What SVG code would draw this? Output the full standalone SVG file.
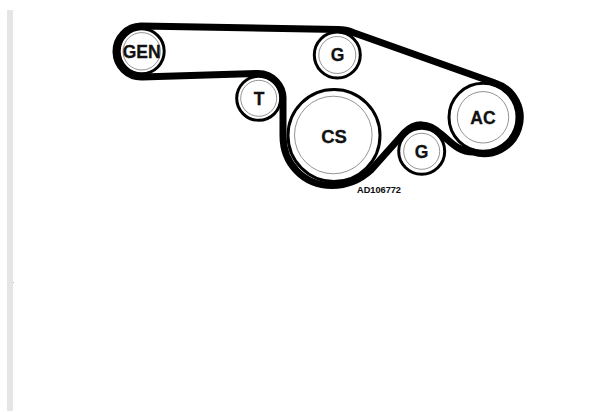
<svg xmlns="http://www.w3.org/2000/svg" width="615" height="412" viewBox="0 0 615 412">
<style>
.outer{fill:#fff;stroke:#000;stroke-width:3}
.inner{fill:#fff;stroke:#777;stroke-width:.8}
.belt{fill:none;stroke:#000;stroke-width:7;stroke-linejoin:round}
text{font-family:"Liberation Sans",Arial,sans-serif;font-weight:700;fill:#111;text-anchor:middle;stroke:#111;stroke-width:.3}
.l{font-size:17.500px}
</style>
<rect width="615" height="412" fill="#fff"/>
<rect x="7" y="10" width="6" height="401" fill="#e5e5e5"/>
<rect x="13" y="282" width="1" height="1" fill="#bbb"/>
<g id="gen"><circle class="outer" cx="141.7" cy="51.3" r="22.500"/><circle class="inner" cx="141.7" cy="51.3" r="18.7"/><text class="l" x="141.7" y="57.500">GEN</text></g>
<g id="t"><circle class="outer" cx="258.7" cy="98.3" r="22"/><circle class="inner" cx="258.7" cy="98.3" r="18"/><text class="l" x="259" y="104.500">T</text></g>
<g id="g1"><circle class="outer" cx="337.3" cy="55" r="23"/><circle class="inner" cx="337.3" cy="55" r="18.500"/><text class="l" x="337.500" y="61">G</text></g>
<g id="cs"><circle class="outer" cx="334" cy="135.500" r="46"/><circle class="inner" cx="333.3" cy="135" r="38.800"/><text x="334" y="143" font-size="18.500">CS</text></g>
<g id="ac"><circle class="outer" cx="483" cy="117.3" r="34"/><circle class="inner" cx="483" cy="117.3" r="25.7"/><text x="483" y="124" font-size="17.500">AC</text></g>
<g id="g2"><circle class="outer" cx="421.7" cy="151.3" r="23"/><circle class="inner" cx="421.7" cy="151.3" r="18"/><text class="l" x="421.500" y="157.500">G</text></g>
<g id="connectors"><path class="belt" d="M141 26 L338 29.500 Q346 29.500 353 32.500 L495 83 A36 36 0 0 1 473 152 C458 152 450 141 441 134 C428 122 415 122 404 133 L371 170 C359 181 345 185.500 332 185.500 C303 185.500 283 163 283 136 L283 100 A25 25 0 0 0 258 73.500 L142 77 A25.500 25.500 0 0 1 141 26 Z"/></g>
<text x="379" y="192.700" font-size="9.200" style="stroke-width:.1">AD106772</text>
</svg>
